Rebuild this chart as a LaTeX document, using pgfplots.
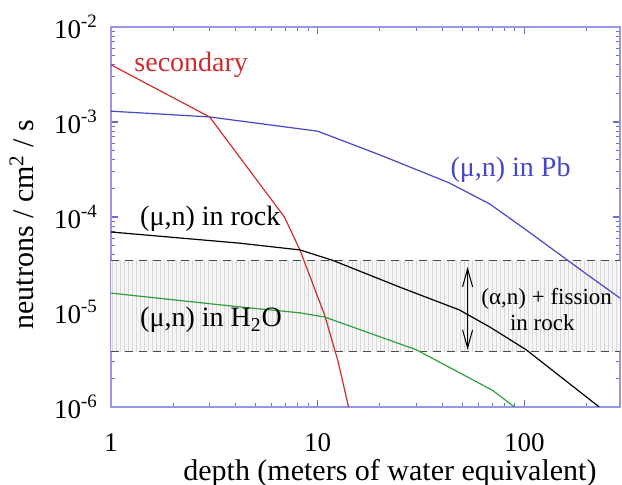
\documentclass[border=0pt]{standalone}
\usepackage{fontspec}
\setmainfont{Liberation Serif}
\usepackage{pgfplots}
\pgfplotsset{compat=1.18}
\usetikzlibrary{patterns.meta,arrows.meta}
\definecolor{frameblue}{RGB}{150,150,230}
\definecolor{tickblue}{RGB}{110,110,200}
\definecolor{secred}{RGB}{205,45,45}
\definecolor{pbblue}{RGB}{70,70,200}
\definecolor{h2ogreen}{RGB}{45,160,60}

\begin{document}
\begin{tikzpicture}
\begin{axis}[
    name=ax,
    scale only axis,
    width=254.5pt, height=190pt,
    xmode=log, ymode=log,
    xmin=1, xmax=290, ymin=1e-6, ymax=1e-2,
    axis line style={frameblue, line width=0.7pt},
    major tick style={draw=tickblue, line width=0.6pt},
    minor tick style={draw=tickblue, line width=0.5pt},
    major tick length=3.5pt, minor tick length=2pt,
    xtick={1,10,100}, xticklabels={1,10,100},
    minor xtick={2,3,4,5,6,7,8,9,20,30,40,50,60,70,80,90,200},
    ytick={1e-6,1e-5,1e-4,1e-3,1e-2},
    minor ytick={2e-6,3e-6,4e-6,5e-6,6e-6,7e-6,8e-6,9e-6,
                 2e-5,3e-5,4e-5,5e-5,6e-5,7e-5,8e-5,9e-5,
                 2e-4,3e-4,4e-4,5e-4,6e-4,7e-4,8e-4,9e-4,
                 2e-3,3e-3,4e-3,5e-3,6e-3,7e-3,8e-3,9e-3},
    yticklabels={10\textsuperscript{-6},10\textsuperscript{-5},10\textsuperscript{-4},10\textsuperscript{-3},10\textsuperscript{-2}},
    tick label style={font=\fontsize{13.5}{15}\selectfont},
    xticklabel style={anchor=base, inner sep=0pt, yshift=-22.5pt},
    yticklabel style={xshift=-3pt},
    xlabel={depth (meters of water equivalent)},
    ylabel={neutrons / cm\textsuperscript{2} / s},
    label style={font=\fontsize{15}{18}\selectfont},
    xlabel style={at={(axis description cs:0.548,0)}, anchor=base, inner sep=0pt, yshift=-37pt},
    ylabel style={at={(axis description cs:-0.175,0.48)}, anchor=center},
]
% shaded band: (alpha,n) + fission in rock
\addplot[draw=none, fill=gray!7,
    postaction={pattern={Lines[angle=90,distance=2pt,line width=0.5pt]}, pattern color=gray!30}]
    coordinates {(1,3.5e-5) (290,3.5e-5) (290,3.8e-6) (1,3.8e-6)} -- cycle;
\addplot[black!70, line width=0.5pt, dash pattern=on 4pt off 3pt] coordinates {(1,3.5e-5) (290,3.5e-5)};
\addplot[black!70, line width=0.5pt, dash pattern=on 4pt off 3pt] coordinates {(1,3.8e-6) (290,3.8e-6)};

% (mu,n) in Pb
\addplot[pbblue, line width=0.6pt] coordinates {
(1,1.3e-3) (3,1.13e-3) (10,8e-4) (20,4.5e-4) (43,2.3e-4) (68,1.37e-4) (102,7.3e-5) (200,2.5e-5) (290,1.4e-5)};
% secondary
\addplot[secred, line width=0.6pt] coordinates {
(1,4e-3) (3,1.13e-3) (6.9,1e-4) (8.2,4.5e-5) (10.8,9.3e-6) (12.5,3.1e-6) (14.1,1e-6)};
% (mu,n) in rock
\addplot[black, line width=0.6pt] coordinates {
(1,6.95e-5) (4.2,5.3e-5) (8.2,4.5e-5) (11.8,3.5e-5) (24.9,1.83e-5) (48.5,1.05e-5) (68,6.95e-6) (102,4.0e-6) (230,1e-6)};
% (mu,n) in H2O
\addplot[h2ogreen, line width=0.6pt] coordinates {
(1,1.58e-5) (4.2,1.13e-5) (8.2,9.8e-6) (10.8,8.85e-6) (30,4e-6) (70,1.5e-6) (89.5,1e-6)};

\node[anchor=base west, text=secred, font=\fontsize{14}{16}\selectfont] at (axis cs:1.2,3.44e-3) {secondary};
\node[anchor=base west, text=pbblue, font=\fontsize{14}{16}\selectfont] at (axis cs:40.6,2.64e-4) {(μ,n) in Pb};
\node[anchor=base west, font=\fontsize{14}{16}\selectfont] at (axis cs:1.28,8.2e-5) {(μ,n) in rock};
\node[anchor=base west, font=\fontsize{14}{16}\selectfont] at (axis cs:1.28,6.95e-6) {(μ,n) in H\textsubscript{2}O};
\node[anchor=base west, font=\fontsize{11.5}{13}\selectfont] at (axis cs:57.3,1.19e-5) {(α,n) + fission};
\node[anchor=base, font=\fontsize{11.5}{13}\selectfont] at (axis cs:122,6.45e-6) {in rock};
\draw[black, line width=0.5pt, {Straight Barb[length=9pt,width=5pt]}-{Straight Barb[length=9pt,width=5pt]}]
    (axis cs:53.1,2.98e-5) -- (axis cs:53.1,4e-6);
\end{axis}
\pgfresetboundingbox
\path ([shift={(-55.5pt,-39pt)}]ax.south west) rectangle ([shift={(1pt,13.5pt)}]ax.north east);
\end{tikzpicture}
\end{document}
